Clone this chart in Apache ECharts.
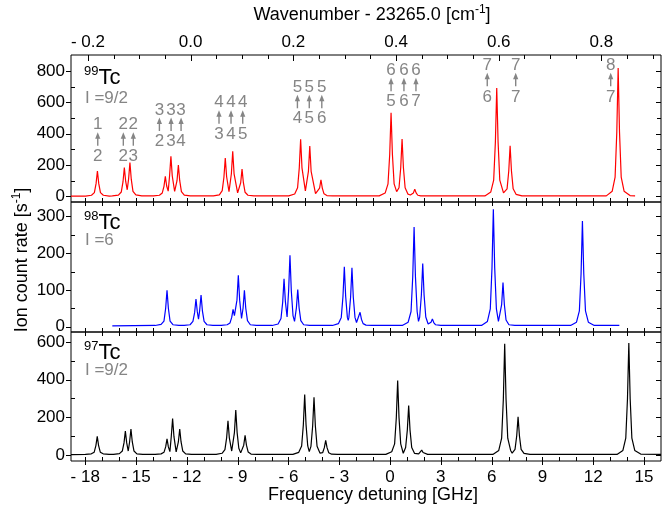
<!DOCTYPE html>
<html><head><meta charset="utf-8">
<script src="https://cdn.jsdelivr.net/npm/echarts@6/dist/echarts.min.js"></script>
<style>html,body{margin:0;padding:0;background:#fff}#c{width:670px;height:511px}</style>
</head><body><div id="c"></div>
<script>
// ---------- data (GHz, ion count rate) ----------
const red99 = [
[-18.84,2],[-17.98,2],[-17.63,7],[-17.46,24],[-17.36,81],[-17.28,162],[-17.2,81],[-17.1,24],[-16.93,7],[-16.58,2],
[-16.4,3],[-16.04,8],[-15.87,28],[-15.77,92],[-15.69,183],[-15.61,95],[-15.52,42],[-15.44,110],[-15.36,215],[-15.28,108],[-15.18,32],[-15.01,9],[-14.66,3],
[-13.97,3],[-13.62,7],[-13.45,22],[-13.35,64],[-13.27,128],[-13.19,66],[-13.1,33],[-13.02,130],[-12.94,255],[-12.86,130],[-12.72,32],[-12.58,100],[-12.50,200],[-12.42,100],[-12.32,30],[-12.15,8],[-11.8,3],
[-10.43,3],[-10.08,10],[-9.91,37],[-9.81,122],[-9.73,245],[-9.65,125],[-9.51,30],[-9.37,144],[-9.29,287],[-9.21,144],[-9.0,22],[-8.82,87],[-8.74,174],[-8.66,87],[-8.56,26],[-8.39,7],[-8.04,3],
[-5.98,3],[-5.63,15],[-5.46,55],[-5.36,182],[-5.28,364],[-5.2,182],[-5.0,35],[-4.82,160],[-4.74,321],[-4.66,160],[-4.4,18],[-4.16,53],[-4.08,106],[-4.0,53],[-3.9,16],[-3.73,5],[-3.38,3],
[-0.64,3],[-0.29,21],[-0.12,80],[-0.02,267],[0.06,534],[0.14,267],[0.24,80],[0.39,30],[0.53,55],[0.63,183],[0.71,366],[0.79,183],[0.89,55],[1.06,14],[1.2,9],[1.38,22],[1.46,45],[1.54,22],[1.64,7],[1.81,3],
[5.6,3],[5.95,28],[6.12,104],[6.22,346],[6.30,692],[6.38,346],[6.48,104],[6.7,22],[6.91,48],[7.01,162],[7.09,323],[7.17,162],[7.27,48],[7.44,13],[7.79,3],
[12.77,3],[13.12,33],[13.29,123],[13.39,410],[13.47,819],[13.55,410],[13.65,123],[13.82,33],[14.17,5],[14.47,3]
];
const blue98 = [
[-16.4,2],[-13.87,3],[-13.52,6],[-13.35,15],[-13.25,50],[-13.17,99],[-13.09,50],[-12.99,15],[-12.82,5],[-12.47,3],
[-12.16,3],[-11.81,5],[-11.64,14],[-11.54,38],[-11.46,75],[-11.38,40],[-11.31,20],[-11.24,45],[-11.16,86],[-11.08,43],[-10.98,14],[-10.81,5],[-10.46,3],
[-9.97,3],[-9.62,5],[-9.45,10],[-9.35,25],[-9.27,47],[-9.19,30],[-9.13,30],[-9.04,72],[-8.96,140],[-8.88,72],[-8.77,22],[-8.68,50],[-8.60,99],[-8.52,50],[-8.42,16],[-8.25,5],[-7.9,3],
[-6.96,3],[-6.61,7],[-6.44,22],[-6.34,66],[-6.26,130],[-6.18,68],[-6.08,26],[-5.99,97],[-5.91,194],[-5.83,97],[-5.73,30],[-5.64,14],[-5.53,51],[-5.45,101],[-5.37,51],[-5.27,16],[-5.1,5],[-4.75,3],
[-3.4,3],[-3.05,8],[-2.88,25],[-2.78,82],[-2.70,163],[-2.62,82],[-2.52,25],[-2.47,17],[-2.43,25],[-2.33,80],[-2.25,160],[-2.17,80],[-2.07,25],[-1.98,11],[-1.87,16],[-1.77,39],[-1.69,20],[-1.59,8],[-1.42,4],[-1.07,3],
[0.72,3],[1.07,12],[1.24,41],[1.34,136],[1.42,271],[1.5,136],[1.6,41],[1.68,14],[1.75,26],[1.85,86],[1.93,172],[2.01,86],[2.11,26],[2.25,7],[2.35,8],[2.42,12],[2.5,21],[2.58,11],[2.68,5],[3.0,3],
[5.4,3],[5.75,14],[5.92,48],[6.02,160],[6.10,320],[6.18,160],[6.28,48],[6.4,14],[6.49,18],[6.59,60],[6.67,120],[6.75,60],[6.85,18],[7.02,5],[7.37,3],
[8.9,3],[9.0,6],[9.1,3],
[10.66,3],[11.01,12],[11.18,43],[11.28,144],[11.36,288],[11.44,144],[11.54,43],[11.71,12],[12.06,3],[13.54,3]
];
const black97 = [
[-18.84,2],[-17.99,3],[-17.64,6],[-17.47,15],[-17.37,50],[-17.29,99],[-17.21,50],[-17.11,15],[-16.94,6],[-16.59,3],
[-16.33,3],[-15.98,7],[-15.81,21],[-15.71,64],[-15.63,127],[-15.55,64],[-15.46,21],[-15.38,69],[-15.30,138],[-15.22,69],[-15.12,21],[-14.95,6],[-14.6,3],
[-13.87,3],[-13.52,6],[-13.35,14],[-13.25,43],[-13.17,85],[-13.09,43],[-13.0,18],[-12.92,97],[-12.84,194],[-12.76,97],[-12.63,16],[-12.5,69],[-12.42,138],[-12.34,69],[-12.24,21],[-12.07,6],[-11.72,3],
[-10.27,3],[-9.92,9],[-9.75,28],[-9.65,91],[-9.57,182],[-9.49,91],[-9.35,21],[-9.19,119],[-9.11,238],[-9.03,119],[-8.93,36],[-8.82,11],[-8.64,52],[-8.56,104],[-8.48,52],[-8.38,16],[-8.21,5],[-7.86,3],
[-5.74,3],[-5.39,14],[-5.22,48],[-5.12,160],[-5.04,321],[-4.96,160],[-4.86,48],[-4.77,18],[-4.67,46],[-4.57,154],[-4.49,307],[-4.41,154],[-4.31,46],[-4.14,10],[-3.98,12],[-3.88,39],[-3.80,78],[-3.72,39],[-3.62,12],[-3.45,4],[-3.1,3],
[-0.25,3],[0.1,17],[0.27,59],[0.37,198],[0.45,395],[0.53,198],[0.63,59],[0.78,9],[0.92,40],[1.02,132],[1.10,263],[1.18,132],[1.28,40],[1.45,8],[1.69,6],[1.79,13],[1.87,26],[1.95,13],[2.05,5],[2.22,3],
[6.07,3],[6.42,24],[6.59,89],[6.69,296],[6.77,591],[6.85,296],[6.95,89],[7.12,24],[7.21,10],[7.38,30],[7.48,102],[7.56,203],[7.64,102],[7.74,30],[7.91,8],[8.26,3],
[13.4,3],[13.75,24],[13.92,89],[14.02,297],[14.10,594],[14.18,297],[14.28,89],[14.45,24],[14.8,5],[16.0,3]
];

// transition annotations (99Tc panel): anchor in data units, upper F', lower F
const annotX = [-17.26,-15.75,-15.16,-13.62,-12.93,-12.34,-10.10,-9.39,-8.70,-5.47,-4.77,-4.03,0.06,0.82,1.53,5.74,7.42,13.03];
const annotY = [457,457,457,551,551,551,598,598,598,696,696,696,805,805,805,836,836,836];
const annotUpper = ['1','2','2','3','3','3','4','4','4','5','5','5','6','6','6','7','7','8'];
const annotLower = ['2','2','3','2','3','4','3','4','5','4','5','6','5','6','7','6','7','7'];

// tick values
const ghzMajor = [-18,-15,-12,-9,-6,-3,0,3,6,9,12,15];
const ghzMinor = [-18,-17,-16,-15,-14,-13,-12,-11,-10,-9,-8,-7,-6,-5,-4,-3,-2,-1,0,1,2,3,4,5,6,7,8,9,10,11,12,13,14,15];
const wnMajor = [-0.2,0.0,0.2,0.4,0.6,0.8];
const wnMinor = [-0.2,-0.15,-0.1,-0.05,0,0.05,0.1,0.15,0.2,0.25,0.3,0.35,0.4,0.45,0.5,0.55,0.6,0.65,0.7,0.75,0.8,0.85,0.9];
const y99Major = [0,200,400,600,800], y99Minor = [100,300,500,700];
const y98Major = [0,100,200,300], y98Minor = [50,150,250];
const y97Major = [0,200,400,600], y97Minor = [100,300,500];

// ---------- layout ----------
const FONT = 'Liberation Sans, Arial, Helvetica, sans-serif';
const GX = {xmin:-18.84, xmax:16.0};
const WN = {min:-0.233, max:0.916};
const panels = [
  {top:55, height:147, ymin:-36, ymax:902, major:y99Major, minor:y99Minor},
  {top:202, height:130, ymin:-14.8, ymax:339.5, major:y98Major, minor:y98Minor},
  {top:332, height:129, ymin:-32, ymax:653, major:y97Major, minor:y97Minor}
];
const grids = panels.map(p => ({left:71, right:9, top:p.top, height:p.height, show:true, borderColor:'#000', borderWidth:1, containLabel:false}));
const lab = {fontFamily:FONT, fontSize:17, color:'#000'};

const xAxes = panels.map((p, gi) => ({type:'value', gridIndex:gi, min:GX.xmin, max:GX.xmax, position:'bottom',
  axisLine:{show:false, onZero:false}, axisTick:{show:false}, splitLine:{show:false},
  axisLabel: gi===2 ? Object.assign({show:true, margin:8, customValues:ghzMajor,
      formatter:v => v<0 ? '- '+Math.abs(v) : String(v)}, lab) : {show:false}}));
xAxes.push({type:'value', gridIndex:0, position:'top', min:WN.min, max:WN.max,
  axisLine:{show:false, onZero:false}, axisTick:{show:false}, splitLine:{show:false},
  axisLabel:Object.assign({show:true, margin:4, customValues:wnMajor,
    formatter:v => v<0 ? '- '+Math.abs(v).toFixed(1) : v.toFixed(1)}, lab)});

const yAxes = panels.map((p, gi) => ({type:'value', gridIndex:gi, min:p.ymin, max:p.ymax, position:'left',
  axisLine:{show:false, onZero:false}, axisTick:{show:false}, splitLine:{show:false},
  axisLabel:Object.assign({show:true, margin:6, customValues:p.major}, lab)}));

// tick marks drawn through the axes' own scales
function tickLine(x1,y1,x2,y2){ return {type:'line', shape:{x1:x1,y1:y1,x2:x2,y2:y2}, style:{stroke:'#000', lineWidth:1}}; }
function panelTicks(gi){
  const p = panels[gi];
  return {type:'custom', xAxisIndex:gi, yAxisIndex:gi, clip:false, silent:true, z:5, data:[[0,0]],
    renderItem:(params, api) => {
      const cs = params.coordSys, L = cs.x, R = cs.x+cs.width, T = cs.y, B = cs.y+cs.height;
      const ch = [];
      const py = v => Math.round(api.coord([GX.xmin, v])[1])+0.5;
      const px = v => Math.round(api.coord([v, p.ymin])[0])+0.5;
      p.major.forEach(v => { const y=py(v); ch.push(tickLine(L-5,y,L,y)); ch.push(tickLine(R-5,y,R,y)); });
      p.minor.forEach(v => { const y=py(v); ch.push(tickLine(L,y,L+4,y)); ch.push(tickLine(R-4,y,R,y)); });
      ghzMajor.forEach(v => { const x=px(v); ch.push(tickLine(x,B,x,B+4)); });
      ghzMinor.forEach(v => { const x=px(v); ch.push(tickLine(x,B-4,x,B)); if (gi>0) ch.push(tickLine(x,T,x,T+4)); });
      return {type:'group', children:ch};
    }};
}
const wnTicks = {type:'custom', xAxisIndex:3, yAxisIndex:0, clip:false, silent:true, z:5, data:[[0,0]],
  renderItem:(params, api) => {
    const cs = params.coordSys, T = cs.y;
    const px = v => Math.round(api.coord([v, 0])[0])+0.5;
    const ch = [];
    wnMajor.forEach(v => { const x=px(v); ch.push(tickLine(x,T,x,T+6)); });
    wnMinor.forEach(v => { const x=px(v); ch.push(tickLine(x,T,x,T+4)); });
    return {type:'group', children:ch};
  }};

const GRAY = '#858585';
const series = [
  {type:'line', xAxisIndex:0, yAxisIndex:0, data:red99, showSymbol:false, symbol:'none', lineStyle:{color:'#ff0000', width:1.2}, z:3},
  {type:'line', xAxisIndex:1, yAxisIndex:1, data:blue98, showSymbol:false, symbol:'none', lineStyle:{color:'#0000ff', width:1.2}, z:3},
  {type:'line', xAxisIndex:2, yAxisIndex:2, data:black97, showSymbol:false, symbol:'none', lineStyle:{color:'#000000', width:1.2}, z:3},
  panelTicks(0), panelTicks(1), panelTicks(2), wnTicks,
  {type:'custom', xAxisIndex:0, yAxisIndex:0, clip:false, silent:true, z:4,
   data: annotX.map((x,i) => [x, annotY[i]]),
   renderItem: (params, api) => {
     const p = api.coord([api.value(0), api.value(1)]);
     const i = params.dataIndex;
     const t = {fontFamily:FONT, fontSize:17, fill:GRAY, align:'center', verticalAlign:'middle'};
     return {type:'group', children:[
       {type:'text', style:Object.assign({text:annotUpper[i], x:p[0], y:p[1]}, t)},
       {type:'line', shape:{x1:p[0], y1:p[1]+12, x2:p[0], y2:p[1]+21}, style:{stroke:GRAY, lineWidth:1.4}},
       {type:'polygon', shape:{points:[[p[0],p[1]+7.5],[p[0]-2.6,p[1]+14],[p[0]+2.6,p[1]+14]]}, style:{fill:GRAY}},
       {type:'text', style:Object.assign({text:annotLower[i], x:p[0], y:p[1]+31.5}, t)}
     ]};
   }}
];

const rich = {
  t:{fontFamily:FONT, fontSize:18, fill:'#000', lineHeight:22},
  sup:{fontFamily:FONT, fontSize:12, fill:'#000', verticalAlign:'top', lineHeight:14},
  tc:{fontFamily:FONT, fontSize:22, fill:'#000', lineHeight:25},
  iso:{fontFamily:FONT, fontSize:13, fill:'#000', verticalAlign:'top', lineHeight:15}
};
function isoLabel(num, spin, yTc, ySpin){
  return [
    {type:'text', left:84, top:yTc-12, style:{text:'{iso|'+num+'}{tc|Tc}', rich:rich}},
    {type:'text', left:85, top:ySpin-10, style:{text:spin, fontFamily:FONT, fontSize:17, fill:GRAY}}
  ];
}
const graphic = [].concat(
  isoLabel('99','I =9/2', 77, 100),
  isoLabel('98','I =6', 222, 242),
  isoLabel('97','I =9/2', 352, 372),
  [
    {type:'text', x:372, y:15, style:{text:'{t|Wavenumber - 23265.0 [cm}{sup|-1}{t|]}', rich:rich, align:'center', verticalAlign:'middle'}},
    {type:'text', x:373, y:495, style:{text:'Frequency detuning [GHz]', fontFamily:FONT, fontSize:18, fill:'#000', align:'center', verticalAlign:'middle'}},
    {type:'text', x:22, y:260, rotation:Math.PI/2, style:{text:'{t|Ion count rate [s}{sup|-1}{t|]}', rich:rich, align:'center', verticalAlign:'middle'}}
  ]
);

const chart = echarts.init(document.getElementById('c'), null, {renderer:'canvas'});
chart.setOption({animation:false, backgroundColor:'#fff', grid:grids, xAxis:xAxes, yAxis:yAxes, series:series, graphic:graphic});
</script></body></html>
